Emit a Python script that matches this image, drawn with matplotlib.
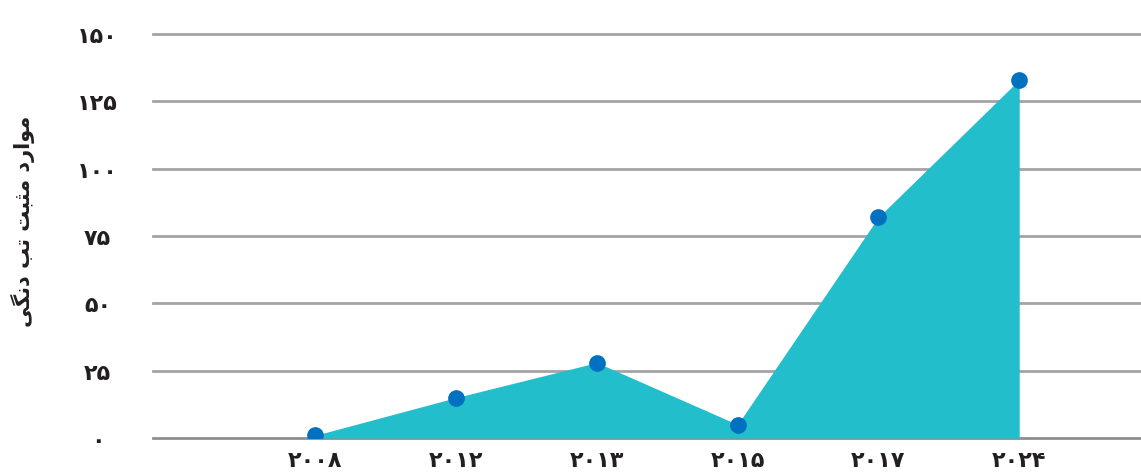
import matplotlib.pyplot as plt

plt.rcParams['font.family'] = ['DejaVu Sans']

years = ['۲۰۰۸', '۲۰۱۲', '۲۰۱۳', '۲۰۱۵', '۲۰۱۷', '۲۰۲۴']
cases = [1, 15, 28, 5, 82, 133]
yticks = [0, 25, 50, 75, 100, 125, 150]
ytick_labels = ['۰', '۲۵', '۵۰', '۷۵', '۱۰۰', '۱۲۵', '۱۵۰']

# "موارد مثبت تب دنگی" in presentation forms, reversed for LTR drawing
ylabel_shaped = ('\uFEE3\uFEEE\uFE8D\uFEAD\uFEA9 '
                 '\uFEE3\uFE9C\uFE92\uFE96 '
                 '\uFE97\uFE90 '
                 '\uFEA9\uFEE7\uFB95\uFBFD')
ylabel = ylabel_shaped[::-1]

fill_col = '#22BECC'
dot_col = '#0070C0'
grid_col = '#A4A4A8'
txt_col = '#231F20'

fig = plt.figure(figsize=(11.41, 4.77), dpi=100)
ax = fig.add_axes([153 / 1141, 38 / 477, 1 - 153 / 1141, 404 / 477])

x = list(range(len(years)))
ax.fill_between(x, cases, 0, color=fill_col, linewidth=0, zorder=2)
ax.plot(x, cases, 'o', color=dot_col, ms=11, zorder=3)

ax.set_xlim(-1.152, 5.865)
ax.set_ylim(0, 150)
ax.set_yticks(yticks)
ax.set_yticklabels(ytick_labels)
ax.set_xticks(x)
ax.set_xticklabels(years)

for lab in ax.get_yticklabels():
    lab.set_horizontalalignment('center')
ax.tick_params(axis='y', length=0, pad=40, labelsize=16, labelcolor=txt_col)
ax.tick_params(axis='x', length=0, pad=9, labelsize=16, labelcolor=txt_col)
for lab in ax.get_xticklabels() + ax.get_yticklabels():
    lab.set_fontweight('bold')

for v in yticks:
    ax.axhline(v, color=grid_col if v else '#8E8E92', lw=2, zorder=1, clip_on=False)

for s in ax.spines.values():
    s.set_visible(False)

fig.text(23 / 1141, 1 - 221 / 477, ylabel, rotation=90, ha='center', va='center',
         fontsize=15, fontweight='bold', color=txt_col)

fig.savefig('out.png', dpi=100)
